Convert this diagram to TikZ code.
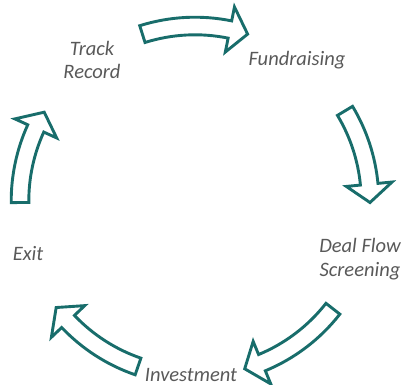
\documentclass[tikz,border=0pt]{standalone}
\usepackage{fontspec}
\setmainfont{Carlito}
\usetikzlibrary{calc}
\definecolor{cycleteal}{HTML}{186D6B}
\definecolor{labelgray}{HTML}{595959}

% radii of the block arrows around the cycle centre (pt)
\newcommand\ringR{175}
\newcommand\bodyW{8.8}
\newcommand\headW{23}
\newcommand\headL{6}

% curved block arrow from tail angle #1 to tip angle #2 (clockwise)
\newcommand\cyclearrow[2]{%
  \draw[cyclearrowstyle]
    ($(ctr)+(#1:\ringR+\bodyW)$)
      arc[start angle=#1, end angle=#2+\headL, radius=\ringR+\bodyW]
    -- ($(ctr)+(#2+\headL:\ringR+\headW)$)
    -- ($(ctr)+(#2:\ringR)$)
    -- ($(ctr)+(#2+\headL:\ringR-\headW)$)
    -- ($(ctr)+(#2+\headL:\ringR-\bodyW)$)
      arc[start angle=#2+\headL, end angle=#1, radius=\ringR-\bodyW]
    -- cycle;}

\tikzset{
  cyclearrowstyle/.style={draw=cycleteal, fill=white, line width=2.9pt, line join=miter},
  steplabel/.style={text=labelgray, font=\fontsize{20.5}{23.5}\selectfont\itshape,
    inner sep=0pt, align=center},
}

\begin{document}
\begin{tikzpicture}[x=1pt, y=1pt]
  \useasboundingbox (0,0) rectangle (404,385);
  \coordinate (ctr) at (195,184);

  % the five stages
  \node[steplabel] (track) at (92,325) {Track\\Record};
  \node[steplabel, anchor=base] (fund) at (297,319) {Fundraising};
  \node[steplabel] (deal) at (360,126) {Deal Flow\\Screening};
  \node[steplabel, anchor=base] (invest) at (191,3.5) {Investment};
  \node[steplabel, anchor=base] (exit) at (28,124) {Exit};

  % arrows between the stages
  \cyclearrow{107.5}{72.5}
  \cyclearrow{31}{-0.5}
  \cyclearrow{-38}{-73.5}
  \cyclearrow{-109}{-142.5}
  \cyclearrow{180.5}{149.5}
\end{tikzpicture}
\end{document}
